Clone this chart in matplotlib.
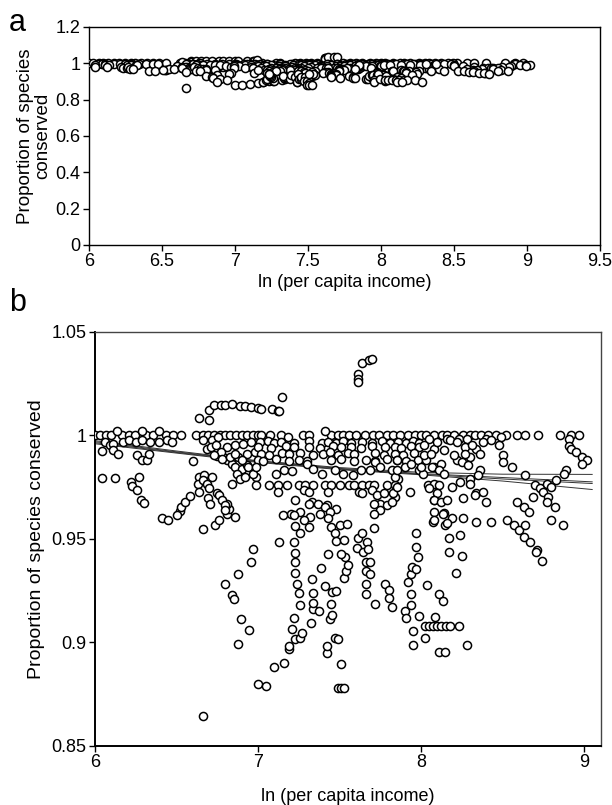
import numpy as np
import matplotlib.pyplot as plt

plt.rcParams['font.family'] = ['Liberation Sans', 'DejaVu Sans']

# countries sitting exactly on 1.0
row_income = [6.00, 6.03, 6.066, 6.098, 6.168, 6.209, 6.245, 6.313, 6.354, 6.436, 6.477, 6.526,
              6.62, 6.66, 6.695, 6.73, 6.767, 6.797, 6.828, 6.865, 6.90, 6.93, 6.97,
              7.00, 7.018, 7.074, 7.14, 7.278, 7.31, 7.448, 7.489, 7.524, 7.559, 7.60, 7.657,
              7.708, 7.742, 7.789, 7.83, 7.871, 7.922, 7.963,
              8.00, 8.03, 8.08, 8.13, 8.16, 8.20, 8.26, 8.30, 8.33, 8.37, 8.41, 8.46, 8.52,
              8.59, 8.64, 8.72, 8.85, 8.92, 8.97]

# above 1.0
upper_points = [(6.133, 1.002), (6.286, 1.002), (6.395, 1.002), (7.411, 1.002), (7.186, 0.9995),
                (6.64, 1.0085), (6.70, 1.0123), (6.70, 1.0077), (6.73, 1.0149), (6.77, 1.0149),
                (6.80, 1.0149), (6.84, 1.0152), (6.89, 1.0144), (6.92, 1.0144), (6.96, 1.0136),
                (7.00, 1.0133), (7.02, 1.0128), (7.085, 1.0128), (7.12, 1.012), (7.13, 1.0117),
                (7.15, 1.0184), (7.615, 1.0296), (7.615, 1.0272), (7.615, 1.0256), (7.64, 1.0348),
                (7.68, 1.0364), (7.70, 1.0369)]

# dense band just under 1.0
band_points = [
    (6.06, 0.997), (6.09, 0.9952), (6.11, 0.996), (6.17, 0.9968), (6.21, 0.9976), (6.25, 0.9968),
    (6.29, 0.9976), (6.34, 0.9968), (6.39, 0.9968), (6.44, 0.9976), (6.47, 0.997),
    (6.04, 0.9925), (6.11, 0.993), (6.14, 0.9912), (6.26, 0.9904), (6.29, 0.9883), (6.32, 0.9883),
    (6.33, 0.991), (6.60, 0.9877),
    (6.04, 0.9796), (6.12, 0.9796), (6.22, 0.9776), (6.23, 0.9755), (6.26, 0.9736), (6.27, 0.98),
    (6.28, 0.969), (6.30, 0.9675),
    (6.52, 0.9636), (6.525, 0.9655), (6.55, 0.9679), (6.58, 0.9707), (6.81, 0.9623), (6.82, 0.9647),
    (6.81, 0.9671),
    (6.685, 0.9936), (6.715, 0.9976), (6.757, 0.9992), (6.746, 0.990), (6.787, 0.9896), (6.81, 0.988),
    (6.84, 0.9864), (6.86, 0.9848), (6.90, 0.984), (6.93, 0.9856), (6.97, 0.984), (6.99, 0.98),
    (6.87, 0.9816), (6.89, 0.9792), (6.92, 0.98), (6.84, 0.9768), (6.88, 0.9896), (6.93, 0.9912),
    (6.98, 0.992), (6.81, 0.9944), (6.86, 0.9952), (6.91, 0.996), (6.96, 0.9968),
    (6.665, 0.9976), (6.71, 0.9944), (6.74, 0.9952), (6.77, 0.992), (6.73, 0.9904), (6.78, 0.9888),
    (6.83, 0.9896), (6.86, 0.9912), (6.90, 0.988), (6.94, 0.9848), (6.97, 0.9816),
    (6.64, 0.98), (6.67, 0.9808), (6.634, 0.9768), (6.66, 0.9784), (6.685, 0.9768), (6.64, 0.9728),
    (6.70, 0.9744), (6.695, 0.9696), (6.705, 0.9671), (6.72, 0.98), (6.746, 0.972), (6.763, 0.9712),
    (6.78, 0.9688), (6.80, 0.9663), (6.80, 0.964),
    (7.01, 0.9968), (7.06, 0.9972), (7.10, 0.9964), (7.14, 0.997), (7.22, 0.9966), (7.31, 0.9972),
    (7.39, 0.9964), (7.43, 0.997), (7.48, 0.9966), (7.52, 0.9972), (7.57, 0.9962), (7.64, 0.997),
    (7.70, 0.9966), (7.76, 0.9972), (7.81, 0.9964), (7.86, 0.997), (7.91, 0.9966), (7.95, 0.9972),
    (7.99, 0.9964),
    (7.00, 0.9944), (7.08, 0.994), (7.17, 0.9948), (7.22, 0.9942), (7.31, 0.9946), (7.38, 0.994),
    (7.46, 0.9948), (7.51, 0.9942), (7.57, 0.9944), (7.63, 0.9938), (7.70, 0.9948), (7.78, 0.9942),
    (7.84, 0.9946), (7.88, 0.994), (7.94, 0.9948), (7.99, 0.9944),
    (7.02, 0.9912), (7.07, 0.9908), (7.15, 0.9916), (7.19, 0.991), (7.26, 0.9914), (7.34, 0.9906),
    (7.40, 0.9912), (7.44, 0.9918), (7.49, 0.9908), (7.55, 0.9914), (7.59, 0.991), (7.72, 0.9916),
    (7.77, 0.9908), (7.84, 0.9912), (7.89, 0.9906), (7.96, 0.9914),
    (7.00, 0.988), (7.03, 0.9876), (7.11, 0.9884), (7.19, 0.9878), (7.25, 0.9882), (7.30, 0.9876),
    (7.45, 0.988), (7.51, 0.9884), (7.59, 0.9876), (7.66, 0.9882), (7.72, 0.9878), (7.79, 0.9884),
    (7.85, 0.988), (7.91, 0.9876), (7.98, 0.9882),
    (6.99, 0.9848), (7.11, 0.9816), (7.16, 0.9832), (7.21, 0.9829), (7.30, 0.9864), (7.34, 0.984),
    (7.39, 0.9816), (7.47, 0.9832), (7.52, 0.9816), (7.58, 0.9808), (7.63, 0.9832), (7.69, 0.9835),
    (7.72, 0.9872), (7.75, 0.9848), (7.82, 0.9832), (7.86, 0.9792), (7.90, 0.9848), (7.94, 0.9864),
    (7.99, 0.9835),
    (6.99, 0.976), (7.07, 0.976), (7.12, 0.976), (7.18, 0.976), (7.25, 0.976), (7.29, 0.976),
    (7.34, 0.976), (7.41, 0.976), (7.45, 0.976), (7.50, 0.976), (7.56, 0.976), (7.59, 0.976),
    (7.64, 0.976), (7.68, 0.976), (7.71, 0.976), (7.79, 0.976), (7.84, 0.976),
    (7.12, 0.9728), (7.28, 0.9736), (7.31, 0.9728), (7.43, 0.9728), (7.62, 0.9728), (7.64, 0.9722),
    (7.70, 0.9736), (7.84, 0.9704), (7.93, 0.9728),
    (7.33, 0.968), (7.37, 0.9671), (7.425, 0.9663), (7.48, 0.9647), (7.26, 0.9631), (7.73, 0.9712),
    (7.75, 0.9671), (7.79, 0.9663), (7.77, 0.972), (7.83, 0.972), (7.85, 0.9752), (7.84, 0.98),
    (7.85, 0.9832), (7.85, 0.988), (8.08, 0.9688), (8.08, 0.9631), (8.10, 0.976), (8.08, 0.9848),
    (7.23, 0.9688), (7.31, 0.9667), (7.41, 0.9655), (7.71, 0.9671), (7.82, 0.968), (7.75, 0.9639),
    (7.20, 0.9623), (7.38, 0.9623), (7.44, 0.9631), (7.71, 0.9623),
    (8.05, 0.9984), (8.16, 0.9984), (8.23, 0.9984), (8.28, 0.9984), (8.40, 0.9984), (8.43, 0.998),
    (8.49, 0.9992), (8.91, 0.9984),
    (8.02, 0.9952), (8.08, 0.9936), (8.27, 0.9944), (8.34, 0.9936), (8.48, 0.9952), (8.91, 0.9947),
    (8.92, 0.9936),
    (8.03, 0.988), (8.12, 0.9864), (8.22, 0.988), (8.25, 0.9872), (8.30, 0.9896), (8.36, 0.9912),
    (8.50, 0.9904), (8.50, 0.9872), (8.95, 0.992), (8.99, 0.9896), (9.02, 0.988), (8.99, 0.9861),
    (8.56, 0.9848),
    (8.07, 0.9848), (8.11, 0.9832), (8.14, 0.9816), (8.29, 0.9856), (8.36, 0.9835), (8.35, 0.9808),
    (8.30, 0.9792), (8.01, 0.9816), (8.64, 0.9808), (8.00, 0.9848), (8.89, 0.9835), (8.88, 0.9813),
    (8.83, 0.9784),
    (8.04, 0.976), (8.08, 0.9768), (8.11, 0.976), (8.05, 0.9744), (8.10, 0.972), (8.19, 0.9752),
    (8.24, 0.9776), (8.30, 0.9768), (8.34, 0.972), (8.38, 0.9728), (8.70, 0.976), (8.73, 0.9744),
    (8.75, 0.9728), (8.77, 0.9768), (8.78, 0.9704), (8.80, 0.9752),
    (8.08, 0.9688), (8.12, 0.968), (8.16, 0.9688), (8.26, 0.9696), (8.33, 0.9712), (8.40, 0.968),
    (8.59, 0.968), (8.63, 0.9655), (8.69, 0.9704), (8.77, 0.968), (8.82, 0.9655),
    (8.14, 0.9627), (8.66, 0.9631),
    (8.10, 0.9968), (8.18, 0.9976), (8.22, 0.9968), (8.02, 0.9904), (8.06, 0.9912), (8.14, 0.9928),
    (8.20, 0.9904), (8.27, 0.9912), (8.31, 0.9952), (8.38, 0.9968)]

# scattered points below the band
spread_points = [
    (6.41, 0.960), (6.45, 0.9591), (6.505, 0.9615), (6.665, 0.9546), (6.736, 0.9567),
    (6.763, 0.9591), (6.86, 0.9607), (6.97, 0.945),
    (7.13, 0.9487), (7.155, 0.9615), (7.22, 0.9615), (7.32, 0.9604), (7.31, 0.9559), (7.23, 0.9562),
    (7.26, 0.9527), (7.22, 0.9487), (7.28, 0.9591),
    (7.43, 0.9599), (7.45, 0.9559), (7.50, 0.9567), (7.545, 0.9572), (7.47, 0.9527), (7.48, 0.9492),
    (7.53, 0.9495), (7.615, 0.9503), (7.635, 0.9527), (7.67, 0.9487), (7.605, 0.9455),
    (7.645, 0.9439), (7.675, 0.945), (7.71, 0.9551), (7.97, 0.9527), (7.97, 0.9463),
    (8.075, 0.9583), (8.135, 0.9623), (8.15, 0.9567),
    (8.08, 0.9591), (8.19, 0.9599), (8.26, 0.9599), (8.34, 0.9583), (8.43, 0.9583), (8.53, 0.9591),
    (8.57, 0.9567), (8.60, 0.9543), (8.64, 0.9567), (8.80, 0.9591), (8.87, 0.9567), (8.16, 0.9575),
    (8.17, 0.9503), (8.24, 0.9519), (8.63, 0.9511), (8.67, 0.9487), (8.71, 0.9447),
    (6.96, 0.9388), (6.88, 0.9332), (6.80, 0.9284), (6.84, 0.9231), (6.85, 0.9212), (6.895, 0.9113),
    (6.945, 0.9058), (6.88, 0.8995), (7.00, 0.880), (6.665, 0.8643),
    (7.05, 0.8791), (7.10, 0.8883), (7.16, 0.8903), (7.19, 0.8967), (7.19, 0.8983), (7.23, 0.9015),
    (7.26, 0.9023), (7.27, 0.9046), (7.21, 0.9063), (7.22, 0.912), (7.26, 0.918), (7.25, 0.9237),
    (7.24, 0.9284), (7.23, 0.9338), (7.23, 0.9388), (7.23, 0.9434), (7.325, 0.9095), (7.34, 0.9162),
    (7.335, 0.9191), (7.34, 0.9239), (7.33, 0.9306), (7.375, 0.915), (7.385, 0.9359), (7.41, 0.9271),
    (7.43, 0.9428), (7.425, 0.8947), (7.425, 0.8983), (7.45, 0.9188), (7.44, 0.9113), (7.455, 0.9135),
    (7.455, 0.9242), (7.48, 0.9247), (7.47, 0.9023), (7.49, 0.9015), (7.51, 0.8898), (7.49, 0.8778),
    (7.51, 0.8778), (7.53, 0.8778), (7.53, 0.9311), (7.54, 0.9343), (7.55, 0.9375), (7.535, 0.9412),
    (7.51, 0.9428), (7.66, 0.9387), (7.69, 0.9387), (7.66, 0.9343), (7.69, 0.9332), (7.66, 0.9284),
    (7.66, 0.9236), (7.72, 0.9188), (7.78, 0.9284), (7.805, 0.9252), (7.805, 0.9215), (7.82, 0.9172),
    (7.90, 0.915), (7.91, 0.9118), (7.94, 0.918), (7.94, 0.9234), (7.92, 0.9293), (7.94, 0.9333),
    (7.945, 0.9365), (7.97, 0.9353), (7.98, 0.9414), (7.95, 0.9055), (7.95, 0.8988), (7.99, 0.9127),
    (8.035, 0.928), (8.025, 0.9023),
    (8.17, 0.9439), (8.25, 0.9418), (8.215, 0.9335), (8.11, 0.9236), (8.135, 0.9199), (8.085, 0.9123),
    (8.025, 0.9079), (8.05, 0.9079), (8.075, 0.9079), (8.10, 0.9079), (8.125, 0.9079), (8.155, 0.9079),
    (8.18, 0.9079), (8.235, 0.9079), (8.28, 0.8987), (8.11, 0.8954), (8.145, 0.8954),
    (8.705, 0.9439), (8.74, 0.9396)]

# fitted curves (panel b)
fit_income = [6.0, 6.5, 7.0, 7.5, 8.0, 8.5, 9.05]
fit_1 = [0.9975, 0.9925, 0.9878, 0.9845, 0.9822, 0.9813, 0.9812]
fit_2 = [0.9970, 0.9921, 0.9876, 0.9841, 0.9816, 0.9797, 0.9776]
fit_3 = [0.9965, 0.9918, 0.9873, 0.9838, 0.9813, 0.9790, 0.9768]
fit_4 = [0.9960, 0.9915, 0.9870, 0.9835, 0.9810, 0.9780, 0.9739]

pts = np.array([(x, 1.0) for x in row_income] + upper_points + band_points + spread_points)
income, conserved = pts[:, 0], pts[:, 1]

fig = plt.figure(figsize=(6.12, 8.05), dpi=100)
ax_a = fig.add_axes([0.1454, 0.6957, 0.835, 0.2708])
ax_b = fig.add_axes([0.1552, 0.0733, 0.8268, 0.5143])

mk = dict(s=34, facecolors='white', edgecolors='black', linewidths=1.1, zorder=3)

# panel a
ax_a.scatter(income, conserved, **mk)
ax_a.set_xlim(6, 9.5)
ax_a.set_ylim(0, 1.2)
ax_a.set_xticks([6, 6.5, 7, 7.5, 8, 8.5, 9, 9.5])
ax_a.set_xticklabels(['6', '6.5', '7', '7.5', '8', '8.5', '9', '9.5'])
ax_a.set_yticks([0, 0.2, 0.4, 0.6, 0.8, 1.0, 1.2])
ax_a.set_yticklabels(['0', '0.2', '0.4', '0.6', '0.8', '1', '1.2'])
ax_a.set_xlabel('ln (per capita income)', fontsize=13, labelpad=3)
ax_a.set_ylabel('Proportion of species\nconserved', fontsize=13.5, labelpad=3, linespacing=1.0)

# panel b
for f in (fit_1, fit_2, fit_3, fit_4):
    ax_b.plot(fit_income, f, color='#333333', lw=0.7, zorder=2)
ax_b.scatter(income, conserved, **mk)
ax_b.set_xlim(6, 9.104)
ax_b.set_ylim(0.85, 1.05)
ax_b.set_xticks([6, 7, 8, 9])
ax_b.set_xticklabels(['6', '7', '8', '9'])
ax_b.set_yticks([0.85, 0.9, 0.95, 1.0, 1.05])
ax_b.set_yticklabels(['0.85', '0.9', '0.95', '1', '1.05'])
ax_b.set_xlabel('ln (per capita income)', fontsize=13, labelpad=12)
ax_b.set_ylabel('Proportion of species conserved', fontsize=14, labelpad=5)

for ax in (ax_a, ax_b):
    ax.tick_params(direction='out', length=4, width=1, labelsize=13, pad=2)
    for s in ax.spines.values():
        s.set_linewidth(1.0)
ax_b.spines['left'].set_linewidth(1.4)
ax_b.spines['bottom'].set_linewidth(1.4)
ax_b.spines['top'].set_color('#444444')
ax_b.spines['right'].set_color('#444444')

fig.text(0.015, 0.972, 'a', fontsize=22, va='center', ha='left')
fig.text(0.015, 0.623, 'b', fontsize=22, va='center', ha='left')

fig.savefig('out.png', dpi=100)
